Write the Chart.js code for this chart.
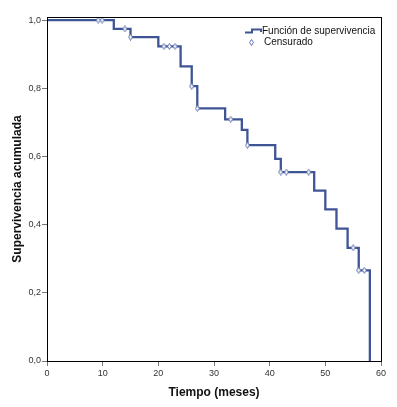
<!DOCTYPE html>
<html>
<head>
<meta charset="utf-8">
<script src="https://cdn.jsdelivr.net/npm/chart.js@4.4.1/dist/chart.umd.min.js"></script>
<style>
  html, body { margin: 0; padding: 0; background: #fff; }
  #wrap { width: 397px; height: 407px; }
</style>
</head>
<body>
<div id="wrap"><canvas id="c" width="397" height="407"></canvas></div>
<script>
// ---- data ----
const eventTimes = [0, 12, 15, 20, 24, 26, 27, 32, 35, 36, 41, 42, 48, 50, 52, 54, 56, 58];
const survival   = [1.0, 0.974, 0.950, 0.923, 0.864, 0.806, 0.741, 0.709, 0.678, 0.633, 0.593, 0.554, 0.500, 0.445, 0.388, 0.332, 0.266, 0.0];
const censoredTimes = [9.2, 9.9, 14, 15, 21, 22, 23, 26, 27, 33, 36, 42, 43, 47, 55, 56, 57];
const censoredSurv  = [1.0, 1.0, 0.974, 0.950, 0.923, 0.923, 0.923, 0.806, 0.741, 0.709, 0.633, 0.554, 0.554, 0.554, 0.332, 0.266, 0.266];
const xTickValues = [0, 10, 20, 30, 40, 50, 60];
const xTickLabels = ['0', '10', '20', '30', '40', '50', '60'];
const yTickValues = [0, 0.2, 0.4, 0.6, 0.8, 1.0];
const yTickLabels = ['0,0', '0,2', '0,4', '0,6', '0,8', '1,0'];
const seriesNames = ['Función de supervivencia', 'Censurado'];
const xTitle = 'Tiempo (meses)';
const yTitle = 'Supervivencia acumulada';

const LINE = '#3e5495';
const FONT = 'Arial, "Liberation Sans", sans-serif';

function diamond() {
  const w = 5, h = 7;
  const cv = document.createElement('canvas');
  cv.width = w; cv.height = h;
  const g = cv.getContext('2d');
  g.beginPath();
  g.moveTo(w / 2, 0.5);
  g.lineTo(w - 0.6, h / 2);
  g.lineTo(w / 2, h - 0.5);
  g.lineTo(0.6, h / 2);
  g.closePath();
  g.fillStyle = '#ffffff';
  g.fill();
  g.strokeStyle = '#5f73b0';
  g.lineWidth = 1;
  g.stroke();
  return cv;
}
const diamondImg = diamond();

const lineData = eventTimes.map((t, i) => ({ x: t, y: survival[i] }));
const censData = censoredTimes.map((t, i) => ({ x: t, y: censoredSurv[i] }));

const framePlugin = {
  id: 'frame',
  afterDraw(chart) {
    const { ctx, chartArea: a } = chart;
    ctx.save();
    ctx.strokeStyle = '#000';
    ctx.lineWidth = 1;
    ctx.strokeRect(Math.round(a.left) + 0.5, Math.round(a.top) + 0.5,
      Math.round(a.right - a.left), Math.round(a.bottom - a.top));
    // legend
    const lx = 245, ly = 31;
    ctx.strokeStyle = LINE;
    ctx.lineWidth = 2;
    ctx.beginPath();
    ctx.moveTo(lx, ly + 1.5);
    ctx.lineTo(lx + 7, ly + 1.5);
    ctx.lineTo(lx + 7, ly - 1.5);
    ctx.lineTo(lx + 16, ly - 1.5);
    ctx.lineTo(lx + 16, ly + 1);
    ctx.stroke();
    ctx.drawImage(diamondImg, 249, 39);
    ctx.fillStyle = '#111';
    ctx.font = '10px ' + FONT;
    ctx.textBaseline = 'middle';
    ctx.textAlign = 'left';
    ctx.fillText(seriesNames[0], 262, ly);
    ctx.fillText(seriesNames[1], 264, 42.5);
    ctx.restore();
  }
};

new Chart(document.getElementById('c'), {
  type: 'scatter',
  data: {
    datasets: [
      {
        label: seriesNames[0],
        data: lineData,
        showLine: true,
        stepped: true,
        borderColor: LINE,
        borderWidth: 2.3,
        pointRadius: 0,
        fill: false,
        order: 2
      },
      {
        label: seriesNames[1],
        data: censData,
        showLine: false,
        pointStyle: diamondImg,
        pointRadius: 4,
        order: 1
      }
    ]
  },
  options: {
    responsive: false,
    animation: false,
    devicePixelRatio: 1,
    layout: { padding: { top: 17, right: 16, left: 0, bottom: 0 } },
    plugins: { legend: { display: false }, tooltip: { enabled: false } },
    scales: {
      x: {
        type: 'linear',
        min: 0, max: 60,
        afterBuildTicks: s => { s.ticks = xTickValues.map(v => ({ value: v })); },
        afterFit: s => { s.height = 46; },
        ticks: {
          callback: (v) => xTickLabels[xTickValues.indexOf(v)],
          font: { family: FONT, size: 9 },
          color: '#333',
          padding: 2,
          maxRotation: 0
        },
        grid: { drawOnChartArea: false, drawTicks: true, tickLength: 5, color: '#777' },
        border: { color: '#000', width: 1 },
        title: {
          display: true, text: xTitle,
          font: { family: FONT, size: 12, weight: 'bold' },
          color: '#111',
          padding: { top: 0, bottom: 7 }
        }
      },
      y: {
        type: 'linear',
        min: 0, max: 1.009,
        afterBuildTicks: s => { s.ticks = yTickValues.map(v => ({ value: v })); },
        afterFit: s => { s.width = 47; },
        ticks: {
          callback: (v) => yTickLabels[yTickValues.findIndex(t => Math.abs(t - v) < 1e-6)],
          font: { family: FONT, size: 9 },
          color: '#333',
          padding: 1
        },
        grid: { drawOnChartArea: false, drawTicks: true, tickLength: 5, color: '#777' },
        border: { color: '#000', width: 1 },
        title: {
          display: true, text: yTitle,
          font: { family: FONT, size: 12, weight: 'bold' },
          color: '#111',
          padding: { top: 10, bottom: 0 }
        }
      }
    }
  },
  plugins: [framePlugin]
});
</script>
</body>
</html>
